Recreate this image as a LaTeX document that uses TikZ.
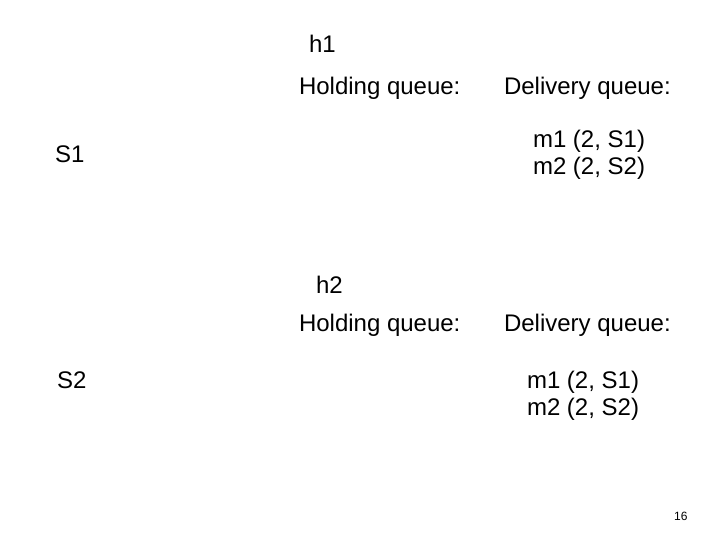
\documentclass[tikz,border=0pt]{standalone}
\usepackage{fontspec}
\setmainfont{Liberation Sans}
\begin{document}
\begin{tikzpicture}[x=1bp,y=-1bp,
  lbl/.style={anchor=base west,inner sep=0pt,outer sep=0pt,font=\fontsize{24bp}{27.6bp}\selectfont},
  pagenum/.style={anchor=base west,inner sep=0pt,font=\fontsize{12bp}{14bp}\selectfont}]
\useasboundingbox (0,0) rectangle (720,540);
% host 1
\node[lbl] (h1) at (309,53) {h1};
\node[lbl] (hq1) at (299,95) {Holding queue:};
\node[lbl] (dq1) at (504,95) {Delivery queue:};
\node[lbl] (s1) at (55,163) {S1};
\node[lbl] (m1a) at (533,148) {m1 (2, S1)};
\node[lbl] (m2a) at (533,175) {m2 (2, S2)};
% host 2
\node[lbl] (h2) at (316,293) {h2};
\node[lbl] (hq2) at (299,331) {Holding queue:};
\node[lbl] (dq2) at (504,331) {Delivery queue:};
\node[lbl] (s2) at (57,388) {S2};
\node[lbl] (m1b) at (527,388) {m1 (2, S1)};
\node[lbl] (m2b) at (527,415) {m2 (2, S2)};
\node[pagenum] (pg) at (674,520) {16};
\end{tikzpicture}
\end{document}
